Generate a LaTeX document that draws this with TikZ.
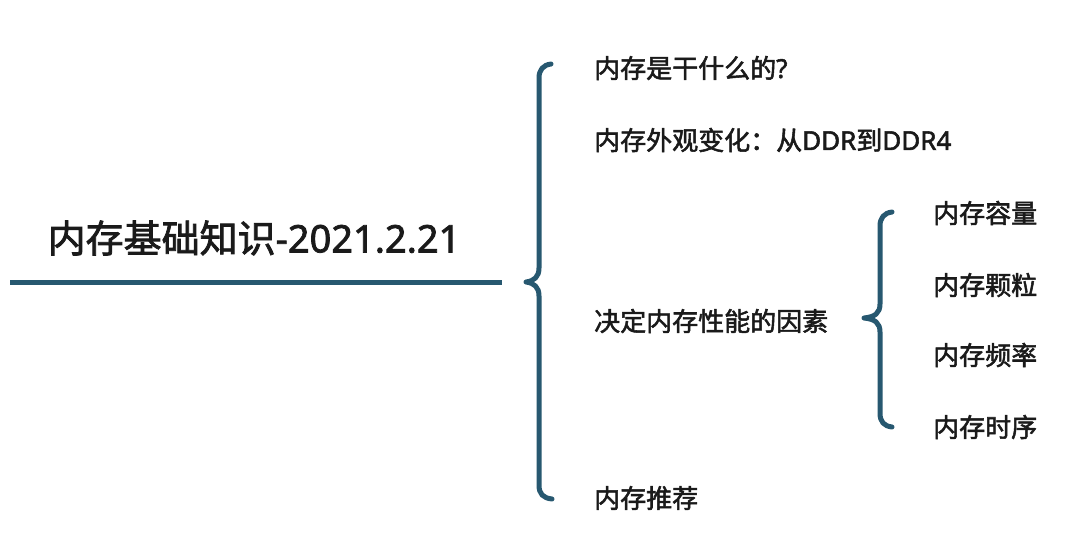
\documentclass[tikz,border=0pt]{standalone}
\usepackage{fontspec}
\setmainfont[FakeBold=2]{Noto Sans}
\newfontfamily\cjk[FakeBold=2]{Noto Sans CJK SC}
\definecolor{bracecol}{HTML}{275870}
\definecolor{txtcol}{HTML}{1A1A1A}
\begin{document}
\begin{tikzpicture}[x=1pt,y=-1pt,
  item/.style={anchor=west,inner sep=0pt,text=txtcol,font=\fontsize{26}{31}\selectfont},
  bracestroke/.style={draw=bracecol,line width=5pt,line cap=round,line join=round}]
\useasboundingbox (0,0) rectangle (1080,546);
\fill[white] (0,0) rectangle (1080,546);
% title and main line
\node[inner sep=0pt,text=txtcol,font=\fontsize{38}{45}\selectfont] (title) at (254,238) {{\cjk 内存基础知识}-2021.2.21};
\coordinate (lineL) at (10,282);
\coordinate (lineR) at (502,282);
\draw[draw=bracecol,line width=5pt] (lineL) -- (lineR);
% big brace
\draw[bracestroke] (551,64) .. controls (543,65) and (539,70) .. (539,78) -- (539,268)
  .. controls (539,277) and (534,281) .. (526,282)
  .. controls (534,283) and (539,287) .. (539,296) -- (539,485)
  .. controls (539,494) and (543,498) .. (552,499);
% first level items
\node[item] (a) at (594,68) {{\cjk 内存是干什么的}?};
\node[item] (b) at (594,140) {{\cjk 内存外观变化：从}DDR{\cjk 到}DDR4};
\node[item] (c) at (594,321) {\cjk 决定内存性能的因素};
\node[item] (d) at (594,498) {\cjk 内存推荐};
% small brace
\draw[bracestroke] (892,212) .. controls (884,213) and (880,218) .. (880,226) -- (880,304)
  .. controls (880,313) and (875,317) .. (864,318)
  .. controls (875,319) and (880,323) .. (880,332) -- (880,413)
  .. controls (880,422) and (884,426) .. (892,427);
% second level items
\node[item] (c1) at (933,213) {\cjk 内存容量};
\node[item] (c2) at (933,285) {\cjk 内存颗粒};
\node[item] (c3) at (933,355) {\cjk 内存频率};
\node[item] (c4) at (933,427) {\cjk 内存时序};
\end{tikzpicture}
\end{document}
